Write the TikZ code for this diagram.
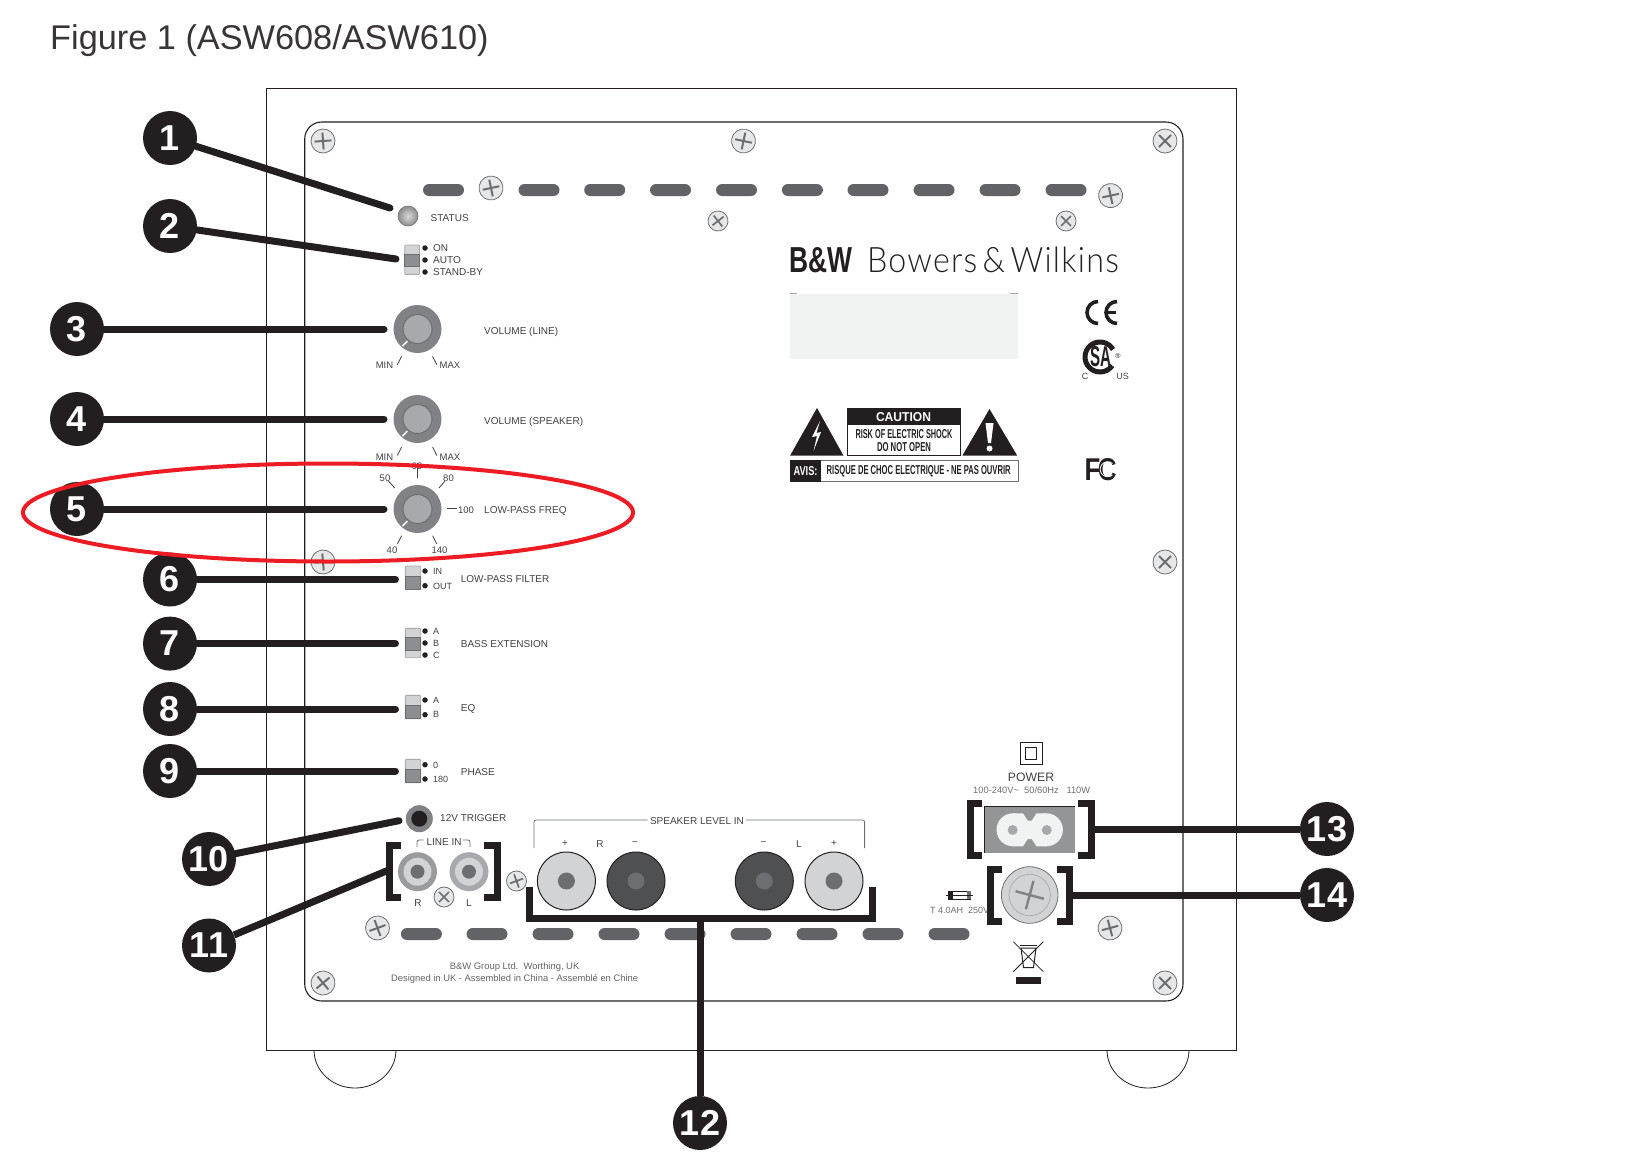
\documentclass[tikz,border=0pt]{standalone}
\usepackage{fontspec}
\usepackage{graphicx}
\setmainfont{Liberation Sans}
\newfontfamily\brandfont[LetterSpace=4]{Lato Light}
\usetikzlibrary{shapes.geometric}
\definecolor{ink}{HTML}{231F20}
\definecolor{txt}{HTML}{414042}
\definecolor{slotgray}{HTML}{626366}
\definecolor{knobgray}{HTML}{808285}
\definecolor{capgray}{HTML}{A7A9AC}
\definecolor{lightgray}{HTML}{D1D3D4}
\definecolor{darkgray}{HTML}{4F5052}
\definecolor{hubgray}{HTML}{6D6E71}
\definecolor{plate}{HTML}{F1F2F2}
\definecolor{screwfill}{HTML}{E6E7E8}
\definecolor{loopred}{HTML}{ED1C24}
\newcommand{\sz}[1]{\fontsize{#1}{#1}\selectfont}
\tikzset{
  badge/.style={circle,fill=ink,text=white,minimum size=54pt,inner sep=0pt,font=\sz{36}\bfseries},
  lead/.style={draw=ink,line width=7pt,line cap=round},
  clamp/.style={draw=ink,line width=7pt,line join=miter},
  slot/.style={rectangle,rounded corners=6pt,fill=slotgray,minimum width=41pt,minimum height=12pt,inner sep=0pt},
  lbl/.style={anchor=west,inner sep=0pt,text=txt,font=\sz{10}},
  mid/.style={inner sep=0pt,yshift=-1pt,text=txt,font=\sz{10}},
  scale label/.style={inner sep=0pt,yshift=-1pt,text=txt,font=\sz{9.5}},
  tick/.style={draw=txt,line width=0.8pt},
  dot/.style={circle,fill=ink,minimum size=5.5pt,inner sep=0pt},
  thin line/.style={draw=hubgray,line width=0.8pt},
  screw/.pic={
    \draw[draw=hubgray,fill=screwfill,line width=0.8pt] (0,0) circle (12);
    \draw[draw=hubgray,line width=2pt] (-8.5,0) -- (8.5,0) (0,-8.5) -- (0,8.5);
  },
  smallscrew/.pic={
    \draw[draw=hubgray,fill=screwfill,line width=0.8pt] (0,0) circle (10);
    \draw[draw=hubgray,line width=1.7pt] (-7,0) -- (7,0) (0,-7) -- (0,7);
  },
  knobbody/.pic={
    \fill[knobgray] (0,0) circle (24);
    \draw[draw=hubgray,fill=capgray,line width=1pt] (0,0) circle (14.5);
    \draw[draw=plate,line width=1.6pt] (-10,12) -- (-15,17);
  },
  jackbody/.pic={
    \draw[draw=ink,fill=#1,line width=1pt] (0,0) circle (29);
  },
  switchbody/.style={draw=capgray,fill=lightgray,line width=0.9pt,rounded corners=1pt},
  switchcap/.style={draw=hubgray,fill=knobgray!90,line width=0.7pt},
}
\begin{document}
\begin{tikzpicture}[x=1pt,y=-1pt]
  \useasboundingbox (0,0) rectangle (1649,1173);
  \draw (50,41) node[anchor=west,inner sep=0pt,text=ink!90,font=\sz{34.3}] (title){Figure 1 (ASW608/ASW610)};
  % cabinet and panel
  \draw[draw=ink,line width=1pt] (266.5,88.5) rectangle (1236.5,1050);
  \draw[draw=ink,line width=1.1pt,rounded corners=17pt] (304.7,122) rectangle (1183,1001);
  \draw[draw=ink,line width=0.8pt] (314,1050) arc (180:360:41pt and 38pt);
  \draw[draw=ink,line width=0.8pt] (1107,1050) arc (180:360:41pt and 38pt);
  % screws
  \draw (323,141) pic[rotate=4]{screw}
    (743.5,141) pic[rotate=-12]{screw}
    (1165,141) pic[rotate=45]{screw}
    (491,188) pic[rotate=12]{screw}
    (1110.6,195.6) pic[rotate=12]{screw}
    (718,221) pic[rotate=38]{smallscrew}
    (1066,221) pic[rotate=45]{smallscrew}
    (323,562) pic[rotate=5]{screw}
    (1165,562) pic[rotate=45]{screw}
    (516.5,881) pic[rotate=20]{smallscrew}
    (444,897) pic[rotate=45]{smallscrew}
    (377.5,928) pic[rotate=20]{screw}
    (1110,928) pic[rotate=15]{screw}
    (323,983) pic[rotate=40]{screw}
    (1165,983) pic[rotate=45]{screw};
  % vents
  \draw (443.5,190) node[slot] (t0){}
    (539,190) node[slot] (t1){}
    (604.7,190) node[slot] (t2){}
    (670.5,190) node[slot] (t3){}
    (736.5,190) node[slot] (t4){}
    (802.4,190) node[slot] (t5){}
    (868,190) node[slot] (t6){}
    (934,190) node[slot] (t7){}
    (1000,190) node[slot] (t8){}
    (1066,190) node[slot] (t9){};
  \draw (421.4,934) node[slot] (b0){}
    (487,934) node[slot] (b1){}
    (553,934) node[slot] (b2){}
    (619,934) node[slot] (b3){}
    (685,934) node[slot] (b4){}
    (751,934) node[slot] (b5){}
    (817,934) node[slot] (b6){}
    (883,934) node[slot] (b7){}
    (949,934) node[slot] (b8){};
  % status and mode switch
  \shade[inner color=gray!30,outer color=gray!90] (408,216) circle (10);
  \draw[draw=hubgray,line width=0.6pt] (408,216) circle (10);
  \draw (430.5,218) node[lbl] (status){STATUS};
  \draw[switchbody] (404.7,245) rectangle (419.5,274.4);
  \draw[switchcap] (404.7,254) rectangle (419.5,266);
  \draw (425,248) node[dot] (d1){} (425,260) node[dot] (d2){} (425,272) node[dot] (d3){};
  \draw (433,248.5) node[lbl] (on){ON}
    (433,260) node[lbl] (auto){AUTO}
    (433,272) node[lbl] (standby){STAND-BY};
  % knobs
  \draw (417.5,329) pic{knobbody} (417.5,419) pic{knobbody} (417.5,509) pic{knobbody};
  \draw (484,331.5) node[lbl] (vline){VOLUME (LINE)}
    (484,421.7) node[lbl] (vspk){VOLUME (SPEAKER)}
    (484,510.5) node[lbl] (lpf){LOW-PASS FREQ};
  \draw (384.5,364) node[scale label] (min1){MIN} (450,364) node[scale label] (max1){MAX}
    (384.5,456) node[scale label] (min2){MIN} (450,456) node[scale label] (max2){MAX};
  \draw[tick] (401.6,356.4) -- (397.4,364.7);
  \draw[tick] (432.6,356.4) -- (436.8,364.7);
  \draw[tick] (401.6,447) -- (397.4,455.5);
  \draw[tick] (432.6,447) -- (436.8,455.5);
  \draw (417,465) node[scale label] (f60){60}
    (385,477) node[scale label] (f50){50}
    (448.5,477) node[scale label] (f80){80}
    (466,509) node[scale label] (f100){100}
    (392,549) node[scale label] (f40){40}
    (439.5,549) node[scale label] (f140){140};
  \draw[tick] (417,463) -- (417,478);
  \draw[tick] (388.4,481) -- (394.7,488);
  \draw[tick] (445,481) -- (439,488);
  \draw[tick] (447.4,508.6) -- (457,508.6);
  \draw[tick] (401.6,535.7) -- (397.4,544);
  \draw[tick] (432.6,535.7) -- (436.8,544);
  % lower switches
  \draw[switchbody] (405.3,566) rectangle (420.7,589.3);
  \draw[switchcap] (405.3,576) rectangle (420.7,589.3);
  \draw[switchbody] (405.3,628.3) rectangle (420.7,657.7);
  \draw[switchcap] (405.3,637.7) rectangle (420.7,650);
  \draw[switchbody] (405.3,695.3) rectangle (420.7,718.7);
  \draw[switchcap] (405.3,705) rectangle (420.7,718.7);
  \draw[switchbody] (405.3,759.3) rectangle (420.7,782.7);
  \draw[switchcap] (405.3,769) rectangle (420.7,782.7);
  \draw (425,571) node[dot] (d4){} (425,585.7) node[dot] (d5){}
    (425,631) node[dot] (d6){} (425,643) node[dot] (d7){} (425,655) node[dot] (d8){}
    (425,700) node[dot] (d9){} (425,714.7) node[dot] (d10){}
    (425,764.7) node[dot] (d11){} (425,779) node[dot] (d12){};
  \draw (433,571) node[lbl,font=\sz{9}] (in){IN}
    (433,586) node[lbl,font=\sz{9}] (out){OUT}
    (433,631.5) node[lbl,font=\sz{9}] (a1){A}
    (433,643.5) node[lbl,font=\sz{9}] (b1l){B}
    (433,655) node[lbl,font=\sz{9}] (c1){C}
    (433,700) node[lbl,font=\sz{9}] (a2){A}
    (433,714.7) node[lbl,font=\sz{9}] (b2l){B}
    (433,765) node[lbl,font=\sz{9}] (p0){0}
    (433,779.5) node[lbl,font=\sz{9}] (p180){180};
  \draw (460.7,579) node[lbl] (lpfilter){LOW-PASS FILTER}
    (460.7,644.3) node[lbl] (bass){BASS EXTENSION}
    (460.7,708.7) node[lbl] (eq){EQ}
    (460.7,772) node[lbl] (phase){PHASE};
  % trigger and line in
  \fill[knobgray] (419.3,818.7) circle (13.5);
  \fill[ink] (419.3,818.7) circle (8);
  \draw (440,817.7) node[lbl] (trigger){12V TRIGGER};
  \draw (444,841) node[mid] (linein){LINE IN};
  \draw[thin line,rounded corners=2pt] (417,847) -- (417,840) -- (423.5,840);
  \draw[thin line,rounded corners=2pt] (463,840) -- (470,840) -- (470,847);
  \fill[knobgray!80] (417.5,871.7) circle (19.5);
  \fill[lightgray] (417.5,871.7) circle (14);
  \fill[hubgray] (417.5,871.7) circle (7);
  \fill[capgray] (469,871.7) circle (19.5);
  \fill[lightgray] (469,871.7) circle (14);
  \fill[hubgray] (469,871.7) circle (7);
  \draw (418,902) node[mid] (rr){R} (469,902) node[mid] (ll){L};
  \draw[clamp] (401,845.5) -- (389.3,845.5) -- (389.3,897.5) -- (401,897.5);
  \draw[clamp] (484,845.5) -- (497,845.5) -- (497,897.5) -- (484,897.5);
  % speaker terminals
  \draw (697,820.3) node[mid] (spk){SPEAKER LEVEL IN};
  \draw[thin line,rounded corners=2pt] (534,848) -- (534,820) -- (647.5,820);
  \draw[thin line,rounded corners=2pt] (745.7,820) -- (864.6,820) -- (864.6,848);
  \draw (565,843) node[mid] (sp1){+}
    (600,843) node[mid] (srr){R}
    (635,843) node[mid] (sm1){−}
    (763.6,843) node[mid] (sm2){−}
    (799,843) node[mid] (sll){L}
    (834,843) node[mid] (sp2){+};
  \draw (566.4,881) pic{jackbody=lightgray} (636,881) pic{jackbody=darkgray}
    (764.3,881) pic{jackbody=darkgray} (834,881) pic{jackbody=lightgray};
  \fill[hubgray] (566.4,881) circle (8.5) (636,881) circle (8.5)
    (764.3,881) circle (8.5) (834,881) circle (8.5);
  \draw (514.6,966.5) node[mid,font=\sz{9.4},text=hubgray!90!black] (maker){B\&W Group Ltd.\ \ Worthing, UK}
    (514.6,978.5) node[mid,font=\sz{9.4},text=hubgray!90!black] (made){Designed in UK - Assembled in China - Assemblé en Chine};
  % logo and approvals
  \draw (820.5,260) node[inner sep=0pt,text=ink] (bw){\resizebox{63pt}{25pt}{\bfseries B\&W}};
  \draw (993,259.5) node[inner sep=0pt,text=ink] (brand){\resizebox{252pt}{25.5pt}{\brandfont Bowers\,\&\,Wilkins}};
  \fill[plate] (790,294) rectangle (1018,359.3);
  \draw[draw=capgray,line width=0.7pt] (790,293.5) -- (797,293.5) (1010,293.5) -- (1018,293.5);
  \draw[draw=ink,line width=3.6pt] (1098,301.5) arc (90:270:11pt);
  \draw[draw=ink,line width=3.6pt] (1117,301.5) arc (90:270:11pt);
  \draw[draw=ink,line width=2.8pt] (1105,312.5) -- (1116,312.5);
  \draw[draw=ink,line width=5pt] (1113,349.5) arc (30:325:15pt);
  \draw (1100.5,357) node[inner sep=0pt,text=ink] (csa){\resizebox{21pt}{20pt}{\bfseries SA}};
  \draw (1118,356) node[inner sep=0pt,text=ink,font=\sz{7}] (reg){®}
    (1085,375) node[mid,font=\sz{9}] (cc){C}
    (1122.7,375) node[mid,font=\sz{9}] (us){US};
  \draw (1100.7,469.3) node[inner sep=0pt,text=ink] (fcc){\resizebox{32pt}{22pt}{\bfseries F\kern-1ptC}};
  \draw[draw=white,line width=0.8pt] (1112.5,463.5) arc (50:310:7.5pt);
  % warnings
  \fill[ink] (817,408) -- (843.5,455.7) -- (790,455.7) -- cycle;
  \fill[white] (820,421) -- (812,437) -- (817,436) -- (813.5,451) -- (821,432) -- (816.5,433) -- cycle;
  \fill[ink] (989.5,409) -- (1017.3,455.7) -- (962.3,455.7) -- cycle;
  \fill[white] (985.5,423) -- (993.5,423) -- (991,443) -- (988,443) -- cycle;
  \fill[white] (989.5,448.5) circle (3);
  \draw[draw=ink,line width=0.8pt] (847,408) rectangle (960,455.7);
  \fill[ink] (847,408) rectangle (960,425);
  \draw (903.5,417) node[inner sep=0pt,text=white] (caution){\resizebox{55pt}{9pt}{\bfseries CAUTION}};
  \draw (904,434.3) node[inner sep=0pt,text=ink] (risk){\resizebox{97pt}{9pt}{\bfseries RISK OF ELECTRIC SHOCK}};
  \draw (904,447.3) node[inner sep=0pt,text=ink] (noopen){\resizebox{54pt}{9pt}{\bfseries DO NOT OPEN}};
  \draw[draw=hubgray,line width=1pt] (790,460) rectangle (1018,481.7);
  \fill[ink] (790,460) rectangle (821,481.7);
  \draw (805.5,470.8) node[inner sep=0pt,text=white] (avis){\resizebox{24pt}{9pt}{\bfseries AVIS:}};
  \draw (918.7,470.8) node[inner sep=0pt,text=ink] (risque){\resizebox{184pt}{9pt}{\bfseries RISQUE DE CHOC ELECTRIQUE - NE PAS OUVRIR}};
  % power
  \draw[draw=ink,line width=1pt] (1020.3,742.3) rectangle (1042.7,764.3);
  \draw[draw=ink,line width=0.8pt] (1025.3,747.3) rectangle (1036.7,759);
  \draw (1031,776.7) node[mid,font=\sz{12.2}] (power){POWER}
    (1031.7,789.3) node[mid,font=\sz{9.3},text=hubgray] (rating){100-240V\textasciitilde\ \ 50/60Hz\ \ \ 110W};
  \fill[knobgray!85] (984.3,806.3) rectangle (1075,852.7);
  \draw[draw=ink,line width=0.8pt] (984.3,852.7) -- (984.3,806.3) -- (1075,806.3);
  \fill[plate] (1013,829.8) circle (16.5) (1046.4,829.8) circle (16.5);
  \fill[plate] (1013,813.3) -- (1023,813.3) -- (1027.7,820.7) -- (1031.7,820.7) -- (1036.5,813.3) -- (1046.4,813.3)
    -- (1046.4,846.3) -- (1036.5,846.3) -- (1031.7,839) -- (1027.7,839) -- (1023,846.3) -- (1013,846.3) -- cycle;
  \fill[capgray] (1012.7,830) circle (5) (1046.7,830) circle (5);
  \draw[clamp] (982.3,803.5) -- (970,803.5) -- (970,855.5) -- (982.3,855.5);
  \draw[clamp] (1078,803.5) -- (1091,803.5) -- (1091,855.5) -- (1078,855.5);
  % fuse
  \draw[draw=ink,fill=white,line width=0.8pt] (948.7,891.3) rectangle (970.7,899.3);
  \fill[ink] (948.7,891.3) rectangle (953,899.3);
  \fill[hubgray] (967,891.3) rectangle (970.7,899.3);
  \draw[draw=ink,line width=0.8pt] (946,895.3) -- (972.7,895.3);
  \draw (930,910) node[lbl,font=\sz{9},text=hubgray] (fuse){T 4.0AH\ \ 250V};
  \draw[draw=hubgray,fill=lightgray,line width=0.8pt] (1029.7,895) circle (28.3);
  \draw[draw=capgray,line width=0.7pt] (1029.7,895) circle (20.7);
  \draw[draw=knobgray,line width=2.4pt,rotate around={-15:(1029.7,895)}] (1015,895) -- (1044.4,895) (1029.7,880.3) -- (1029.7,909.7);
  \draw[clamp] (1002.3,869.5) -- (990,869.5) -- (990,921.5) -- (1002.3,921.5);
  \draw[clamp] (1056.7,869.5) -- (1069.4,869.5) -- (1069.4,921.5) -- (1056.7,921.5);
  % recycling mark
  \draw[draw=ink,line width=0.8pt] (1013.3,941.7) -- (1043.3,971.7) (1043.3,941.7) -- (1013.3,971.7);
  \draw[draw=ink,line width=1pt] (1021,948) -- (1036,948) -- (1033.5,967.5) -- (1023.5,967.5) -- cycle;
  \draw[draw=ink,line width=1.5pt] (1020,945.5) -- (1037,945.5);
  \fill[ink] (1016,977.3) rectangle (1041,984);
  % callouts
  \draw (170,138) node[badge] (1){1}
    (170,226) node[badge] (2){2}
    (77,329) node[badge] (3){3}
    (77,419) node[badge] (4){4}
    (77,509) node[badge] (5){5}
    (170,579.5) node[badge] (6){6}
    (170,643.6) node[badge] (7){7}
    (170,709) node[badge] (8){8}
    (170,771) node[badge] (9){9}
    (209,859) node[badge] (10){10}
    (209,945.5) node[badge] (11){11}
    (700,1123) node[badge] (12){12}
    (1327,829) node[badge] (13){13}
    (1327,895) node[badge] (14){14};
  \coordinate (e1) at (390,208);
  \coordinate (e2) at (396,259);
  \coordinate (e3) at (384,329);
  \coordinate (e4) at (384,419);
  \coordinate (e5) at (384,509);
  \coordinate (e6) at (395.5,579.5);
  \coordinate (e7) at (395.5,643.6);
  \coordinate (e8) at (395.5,709);
  \coordinate (e9) at (395.5,771);
  \coordinate (e10) at (399,820.7);
  \coordinate (e11) at (387,870.7);
  \coordinate (e12) at (700,918);
  \coordinate (e13) at (1093,829);
  \coordinate (e14) at (1072,895);
  \begin{scope}[lead]
    \draw (1) to (e1);
    \draw (2) to (e2);
    \draw (3) to (e3);
    \draw (4) to (e4);
    \draw (5) to (e5);
    \draw (6) to (e6);
    \draw (7) to (e7);
    \draw (8) to (e8);
    \draw (9) to (e9);
    \draw (10) to (e10);
    \draw[line cap=butt] (11) to (e11);
    \draw[line cap=butt] (12) to (e12);
    \draw[line cap=butt] (13) to (e13);
    \draw[line cap=butt] (14) to (e14);
  \end{scope}
  \draw[clamp] (529,887) -- (529,918) -- (872.5,918) -- (872.5,887);
  % highlight
  \draw[draw=loopred,line width=4pt] (328,512.5) ellipse (305pt and 49pt);
\end{tikzpicture}
\end{document}
